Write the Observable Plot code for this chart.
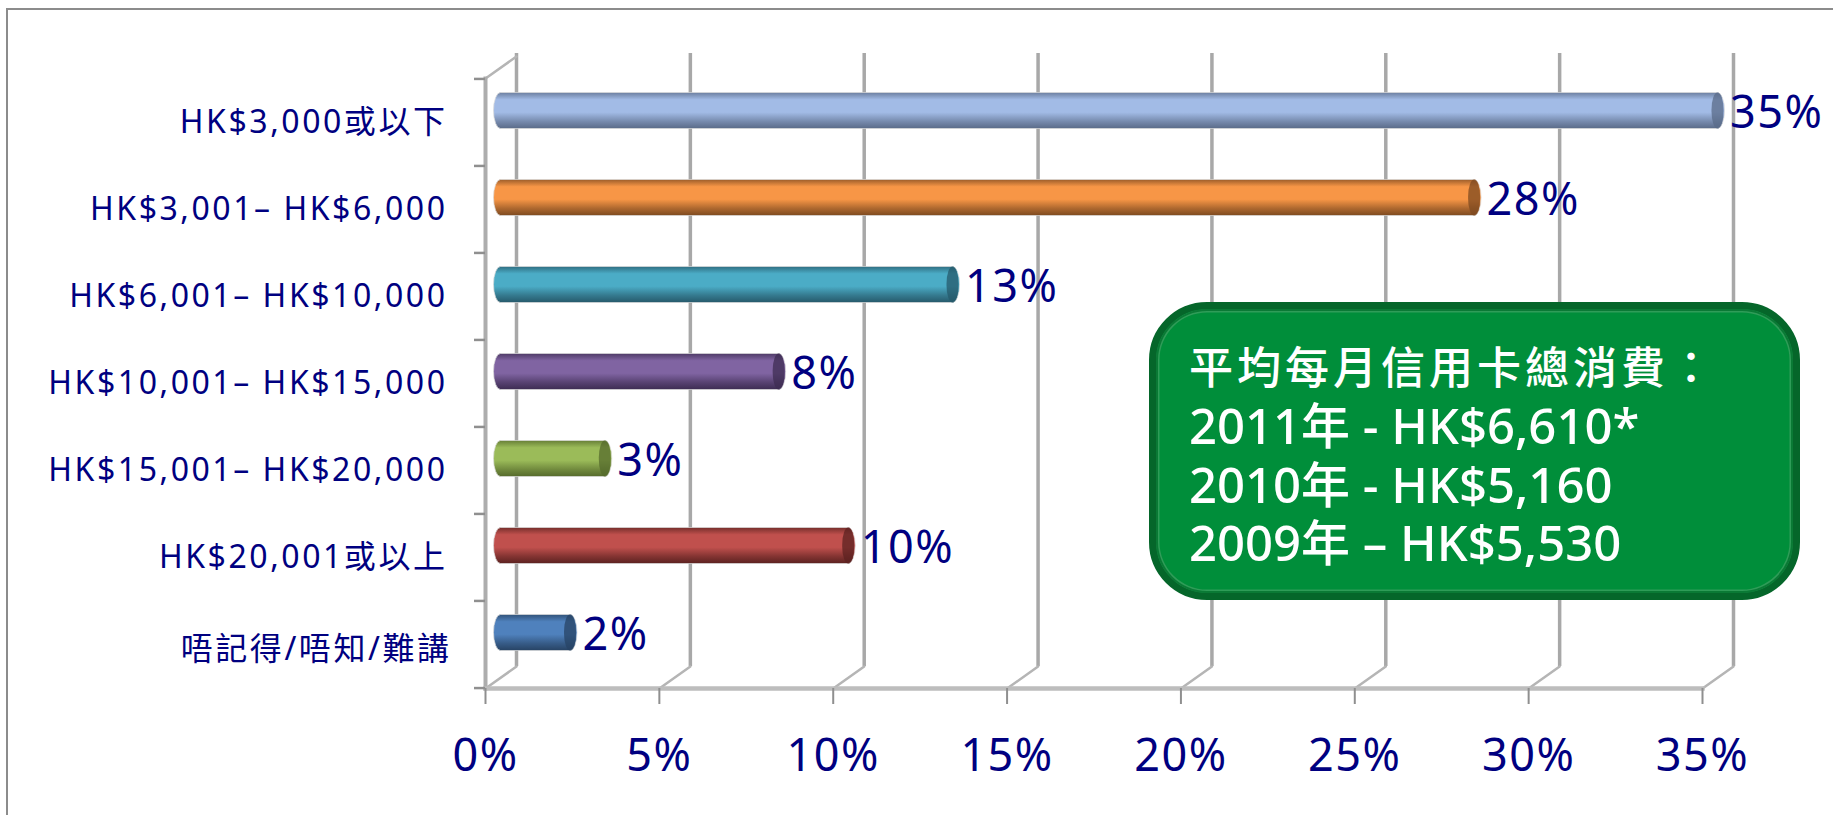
<!DOCTYPE html>
<html><head><meta charset="utf-8">
<script src="https://cdn.jsdelivr.net/npm/d3@7"></script>
<script src="https://cdn.jsdelivr.net/npm/@observablehq/plot@0.6"></script>
<style>
html,body{margin:0;padding:0;background:#fff;width:1833px;height:815px;overflow:hidden}
#wrap{position:relative;width:1833px;height:815px}
#edge{position:absolute;left:6px;top:8px;right:-10px;bottom:-10px;border:2.5px solid #8c8c8c;box-sizing:border-box}
#box{position:absolute;left:1149px;top:302px;width:651px;height:298px;box-sizing:border-box;background:#008e3a;border:7px solid #05662a;border-radius:58px;color:#fff;font-family:"Noto Sans","Noto Sans CJK TC",sans-serif;font-size:49px;font-weight:500;line-height:58.5px;padding:25px 0 0 33px;white-space:pre;box-shadow:inset 0 0 0 2px #0a7a35,inset 0 0 0 3.5px #2f9c58}
#box .h{font-family:"Noto Sans CJK TC";font-size:44px;letter-spacing:4px;line-height:62px}
.ylab text{letter-spacing:2.55px}
.val text,.xlab text{letter-spacing:1.5px}
svg{max-width:none!important}
</style></head><body>
<div id="wrap"><div id="chart"></div><div id="edge"></div>
<div id="box"></div></div>
<script>
const categories = ["HK$3,000或以下","HK$3,001– HK$6,000","HK$6,001– HK$10,000","HK$10,001– HK$15,000","HK$15,001– HK$20,000","HK$20,001或以上","唔記得/唔知/難講"];
const shares = [35,28,13,8,3,10,2];
const lightColors = ["#a2bbe6","#f79646","#4bacc6","#8064a2","#9bbb59","#c0504d","#4f81bd"];
const darkColors = ["#5a6b88","#7d4a20","#26596b","#3d2c52","#566b2c","#5c2220","#274364"];
const xTicks = [0,5,10,15,20,25,30,35];
const boxLines = ["平均每月信用卡總消費：","2011年 - HK$6,610*","2010年 - HK$5,160","2009年 – HK$5,530"];

const rows = categories.map((c,i)=>({c,v:shares[i],i}));
const step = 610/7;
const depthX = 31, depthY = 22;
const font = '"Noto Sans","Noto Sans CJK TC",sans-serif';
const navy = "#000080", grid = "#a8a8a8";
const lineShape = {draw(ctx,l){ctx.moveTo(0,0);ctx.lineTo(0,-l);}};
const depthLen = Math.hypot(depthX,depthY), depthAngle = Math.atan2(depthX,depthY)*180/Math.PI;

const defs = () => {
  const s = d3.create("svg:defs");
  rows.forEach((r,i)=>{
    const g = s.append("linearGradient").attr("id","g"+i).attr("x1",0).attr("x2",0).attr("y1",0).attr("y2",1);
    [[0,d3.interpolateRgb(lightColors[i],darkColors[i])(.75)],[.2,lightColors[i]],[.55,lightColors[i]],[.8,d3.interpolateRgb(lightColors[i],darkColors[i])(.6)],[1,darkColors[i]]]
      .forEach(([o,c])=>g.append("stop").attr("offset",o).attr("stop-color",c));
  });
  return s.node();
};

const barBase = {y:"c",dx:depthX/2,dy:-11.5};
const chart = Plot.plot({
  width:1833,height:815,
  marginLeft:485,marginRight:131,marginTop:78,marginBottom:127,
  style:{fontFamily:font,background:"transparent"},
  x:{domain:[0,35],label:null},
  y:{domain:categories,paddingInner:0.586,paddingOuter:0.293,align:0.5,label:null},
  color:{type:"identity"},
  marks:[
    defs,
    Plot.ruleX(xTicks,{x:d=>d,dx:depthX,dy:-depthY,insetTop:-3,stroke:grid,strokeWidth:3.5}),
    Plot.vector(xTicks,{x:d=>d,frameAnchor:"bottom",length:depthLen,rotate:depthAngle,anchor:"start",shape:lineShape,stroke:"#b5b5b5",strokeWidth:2.5}),
    Plot.vector([0],{x:d=>d,frameAnchor:"top",length:depthLen,rotate:depthAngle,anchor:"start",shape:lineShape,stroke:"#b5b5b5",strokeWidth:2.5}),
    Plot.frame({anchor:"left",stroke:"#adadad",strokeWidth:4}),
    Plot.frame({anchor:"bottom",stroke:"#bdbdbd",strokeWidth:4.5}),
    Plot.axisY({anchor:"left",tickSize:11,tickFormat:()=>"",dy:-step/2,stroke:"#8f8f8f",strokeWidth:2.5,label:null}),
    Plot.axisY([categories[categories.length-1]],{anchor:"left",tickSize:11,tickFormat:()=>"",dy:step/2,stroke:"#8f8f8f",strokeWidth:2.5,label:null}),
    Plot.barX(rows,{...barBase,x1:0,x2:"v",fill:d=>`url(#g${d.i})`,insetLeft:-7,insetRight:-7,rx:7,ry:18,stroke:"#dcdcdc",strokeWidth:1,strokeOpacity:0.7}),
    Plot.barX(rows,{...barBase,x1:"v",x2:"v",fill:d=>darkColors[d.i],fillOpacity:0.75,insetLeft:-6,insetRight:-6,rx:6,ry:17}),
    Plot.text(rows,{y:"c",x:"v",text:d=>d.v+"%",textAnchor:"start",dx:depthX/2+12,dy:-9,fill:navy,fontSize:45,className:"val"}),
    Plot.axisX({anchor:"bottom",ticks:xTicks,tickFormat:d=>d+"%",tickSize:16,tickPadding:35,fontSize:45,color:navy,stroke:"#8f8f8f",strokeWidth:2,label:null,className:"xlab"}),
    Plot.axisY(categories.slice(0,6),{anchor:"left",tickSize:0,tickPadding:38,fontSize:32,color:navy,label:null,className:"ylab"}),
    Plot.axisY(categories.slice(6),{anchor:"left",tickSize:0,tickPadding:34,dy:5,fontSize:32,color:navy,label:null,className:"ylab"})
  ]
});
document.getElementById("chart").append(chart);
d3.select(chart).selectAll(".xlab text,.ylab text").attr("fill",navy);
const box = document.getElementById("box");
boxLines.forEach((t,i)=>{const d=document.createElement("div");d.textContent=t;if(i===0)d.className="h";box.append(d);});
</script></body></html>
